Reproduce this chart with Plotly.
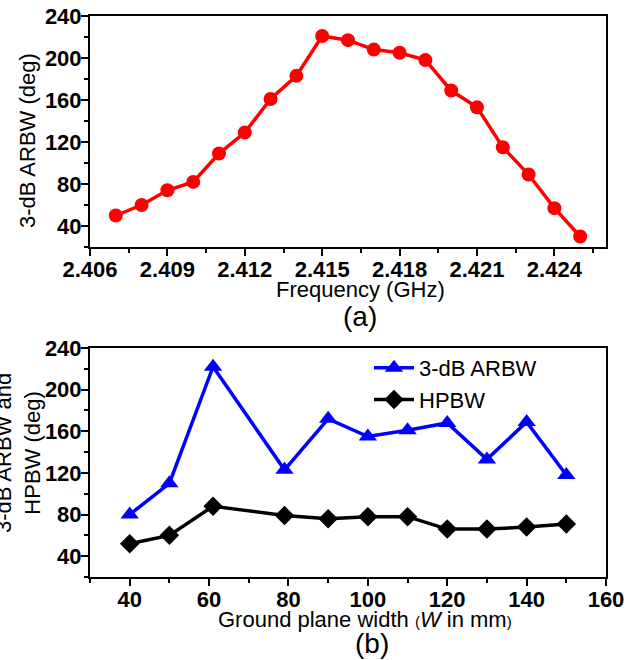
import plotly.graph_objects as go

# ---- data (a) ----
freq_ghz = [2.407, 2.408, 2.409, 2.410, 2.411, 2.412, 2.413, 2.414, 2.415, 2.416,
            2.417, 2.418, 2.419, 2.420, 2.421, 2.422, 2.423, 2.424, 2.425]
arbw_freq = [50, 60, 74, 82, 109, 129, 161, 183, 221, 217,
             208, 205, 198, 169, 153, 115, 89, 57, 30]

# ---- data (b) ----
ground_w = [40, 50, 61, 79, 90, 100, 110, 120, 130, 140, 150]
arbw_w = [80, 110, 222, 123, 172, 155, 161, 168, 133, 169, 118]
hpbw_w = [52, 60, 88, 79, 76, 78, 78, 66, 66, 68, 71]

W, H = 639, 660
FONT = "Liberation Sans, Arial, sans-serif"

def px_x(p):
    return p / W

def px_y(p):
    return 1 - p / H

fig = go.Figure()
fig.add_trace(go.Scatter(x=freq_ghz, y=arbw_freq, mode="lines+markers",
                         line=dict(color="#ff0000", width=3.5),
                         marker=dict(symbol="circle", size=14, color="#ff0000"),
                         showlegend=False, xaxis="x", yaxis="y"))
fig.add_trace(go.Scatter(x=ground_w, y=arbw_w, mode="lines+markers", name="3-dB ARBW",
                         line=dict(color="#0000ff", width=3.5),
                         marker=dict(symbol="triangle-up", size=16, color="#0000ff"),
                         xaxis="x2", yaxis="y2"))
fig.add_trace(go.Scatter(x=ground_w, y=hpbw_w, mode="lines+markers", name="HPBW",
                         line=dict(color="#000000", width=3.5),
                         marker=dict(symbol="diamond", size=15, color="#000000"),
                         xaxis="x2", yaxis="y2"))

xdom = [px_x(90), px_x(606)]
ydom_a = [px_y(247), px_y(16)]
ydom_b = [px_y(577), px_y(348)]

tickfont = dict(family=FONT, size=22, color="black", weight="bold")

def main_axis(rng, dtick, tick0, minor_dtick, dom, anchor, fmt=None):
    d = dict(range=rng, domain=dom, anchor=anchor, dtick=dtick, tick0=tick0,
             showline=True, linecolor="black", linewidth=2, mirror=True,
             ticks="outside", ticklen=7, tickwidth=2, tickcolor="black",
             showgrid=False, zeroline=False, tickfont=tickfont, fixedrange=True,
             automargin=False, ticklabelstandoff=-5,
             minor=dict(dtick=minor_dtick, tick0=tick0, ticks="outside", ticklen=4,
                        tickwidth=2, tickcolor="black", showgrid=False))
    if fmt:
        d["tickformat"] = fmt
    return d

def overlay_axis(rng, dtick, tick0, minor_dtick, overlaying, side, anchor):
    return dict(range=rng, overlaying=overlaying, side=side, anchor=anchor,
                dtick=dtick, tick0=tick0, showticklabels=False, showline=False,
                ticks="inside", ticklen=7, tickwidth=2, tickcolor="black",
                showgrid=False, zeroline=False, fixedrange=True, automargin=False,
                minor=dict(dtick=minor_dtick, tick0=tick0, ticks="inside", ticklen=4,
                           tickwidth=2, tickcolor="black", showgrid=False))

xr_a = [2.406, 2.426]
yr = [20, 240]
xr_b = [30, 160]

fig.update_layout(
    width=W, height=H, autosize=False,
    margin=dict(l=0, r=0, t=0, b=0, autoexpand=False),
    paper_bgcolor="white", plot_bgcolor="white",
    font=dict(family=FONT, color="black"),
    xaxis=main_axis(xr_a, 0.003, 2.406, 0.0015, xdom, "y", fmt=".3f"),
    yaxis=main_axis(yr, 40, 0, 20, ydom_a, "x"),
    xaxis2=main_axis(xr_b, 20, 0, 10, xdom, "y2"),
    yaxis2=main_axis(yr, 40, 0, 20, ydom_b, "x2"),
    xaxis3=overlay_axis(xr_a, 0.003, 2.406, 0.0015, "x", "top", "y"),
    yaxis3=overlay_axis(yr, 40, 0, 20, "y", "right", "x"),
    xaxis4=overlay_axis(xr_b, 20, 0, 10, "x2", "top", "y2"),
    yaxis4=overlay_axis(yr, 40, 0, 20, "y2", "right", "x2"),
    legend=dict(x=px_x(369), y=px_y(347), xanchor="left", yanchor="top",
                bgcolor="rgba(0,0,0,0)", font=dict(family=FONT, size=22, color="black"),
                itemwidth=40, tracegroupgap=0),
)

ann_font = dict(family=FONT, size=22, color="black")
fig.add_annotation(text="3-dB ARBW (deg)", x=px_x(27), y=px_y(141), xref="paper", yref="paper",
                   textangle=-90, showarrow=False, font=ann_font, xanchor="center", yanchor="middle")
fig.add_annotation(text="Frequency (GHz)", x=px_x(360), y=px_y(289), xref="paper", yref="paper",
                   showarrow=False, font=ann_font, xanchor="center", yanchor="middle")
fig.add_annotation(text="(a)", x=px_x(360), y=px_y(316), xref="paper", yref="paper",
                   showarrow=False, font=dict(family=FONT, size=28, color="black"),
                   xanchor="center", yanchor="middle")
fig.add_annotation(text="3-dB ARBW and<br>HPBW (deg)", x=px_x(18), y=px_y(453), xref="paper", yref="paper",
                   textangle=-90, showarrow=False, font=ann_font, xanchor="center", yanchor="middle")
fig.add_annotation(text="Ground plane width <span style='font-size:15px'>(</span><i>W</i> in mm<span style='font-size:15px'>)</span>",
                   x=px_x(365), y=px_y(619), xref="paper", yref="paper",
                   showarrow=False, font=ann_font, xanchor="center", yanchor="middle")
fig.add_annotation(text="(b)", x=px_x(372), y=px_y(643), xref="paper", yref="paper",
                   showarrow=False, font=dict(family=FONT, size=28, color="black"),
                   xanchor="center", yanchor="middle")

fig.write_html("out.html", config={"displayModeBar": False},
               post_script="document.body.style.margin='0px';")
